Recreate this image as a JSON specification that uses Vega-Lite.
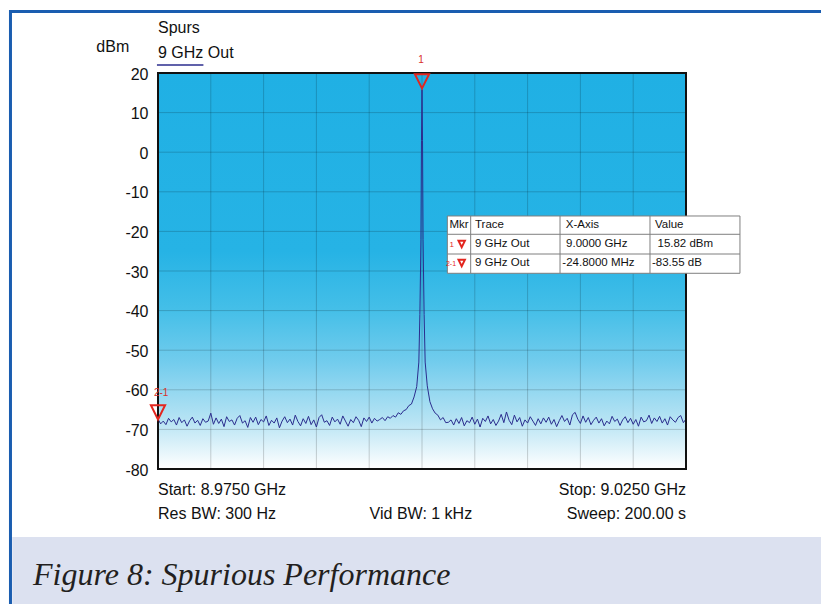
{
"$schema": "https://vega.github.io/schema/vega-lite/v6.json",
"width": 528, "height": 396,
"autosize": {"type": "none"},
"padding": {"left": 158, "top": 73, "right": 135, "bottom": 135},
"background": "#ffffff",
"config": {"view": {"stroke": null}, "font": "Liberation Sans", "text": {"font": "Liberation Sans"},
  "axisY": {"labelFont": "Liberation Sans", "labelFontSize": 16, "labelColor": "#111111", "labelPadding": 10, "labelFlush": false, "labelOverlap": false, "ticks": false, "domain": false, "grid": false, "title": null}},
"resolve": {"axis": {"x": "independent", "y": "independent"}},
"data": {"values": [{}]},
"datasets": {
"trace": [
{"f":8975,"v":-67.4},{"f":8975.25,"v":-68.6},{"f":8975.5,"v":-67.9},{"f":8975.75,"v":-68.8},{"f":8976,"v":-67.2},{"f":8976.25,"v":-68.1},{"f":8976.5,"v":-67.5},{"f":8976.75,"v":-68.9},{"f":8977,"v":-67.0},{"f":8977.25,"v":-68.3},
{"f":8977.5,"v":-67.6},{"f":8977.75,"v":-69.2},{"f":8978,"v":-67.8},{"f":8978.25,"v":-66.9},{"f":8978.5,"v":-68.4},{"f":8978.75,"v":-67.7},{"f":8979,"v":-69.0},{"f":8979.25,"v":-67.3},{"f":8979.5,"v":-68.2},{"f":8979.75,"v":-67.9},
{"f":8980,"v":-65.9},{"f":8980.25,"v":-68.7},{"f":8980.5,"v":-67.1},{"f":8980.75,"v":-68.5},{"f":8981,"v":-67.4},{"f":8981.25,"v":-69.3},{"f":8981.5,"v":-66.8},{"f":8981.75,"v":-68.0},{"f":8982,"v":-67.6},{"f":8982.25,"v":-68.9},
{"f":8982.5,"v":-67.2},{"f":8982.75,"v":-66.5},{"f":8983,"v":-68.4},{"f":8983.25,"v":-67.8},{"f":8983.5,"v":-69.5},{"f":8983.75,"v":-67.0},{"f":8984,"v":-68.2},{"f":8984.25,"v":-66.9},{"f":8984.5,"v":-68.8},{"f":8984.75,"v":-67.5},
{"f":8985,"v":-68.1},{"f":8985.25,"v":-66.6},{"f":8985.5,"v":-69.0},{"f":8985.75,"v":-67.7},{"f":8986,"v":-68.4},{"f":8986.25,"v":-67.1},{"f":8986.5,"v":-69.6},{"f":8986.75,"v":-67.9},{"f":8987,"v":-66.8},{"f":8987.25,"v":-68.3},
{"f":8987.5,"v":-67.4},{"f":8987.75,"v":-68.9},{"f":8988,"v":-66.4},{"f":8988.25,"v":-68.0},{"f":8988.5,"v":-69.1},{"f":8988.75,"v":-67.3},{"f":8989,"v":-68.5},{"f":8989.25,"v":-66.7},{"f":8989.5,"v":-68.8},{"f":8989.75,"v":-67.6},
{"f":8990,"v":-69.4},{"f":8990.25,"v":-67.0},{"f":8990.5,"v":-66.3},{"f":8990.75,"v":-68.2},{"f":8991,"v":-67.8},{"f":8991.25,"v":-69.0},{"f":8991.5,"v":-66.9},{"f":8991.75,"v":-68.1},{"f":8992,"v":-67.4},{"f":8992.25,"v":-68.7},
{"f":8992.5,"v":-66.6},{"f":8992.75,"v":-67.9},{"f":8993,"v":-69.2},{"f":8993.25,"v":-67.5},{"f":8993.5,"v":-68.3},{"f":8993.75,"v":-66.8},{"f":8994,"v":-67.7},{"f":8994.25,"v":-69.3},{"f":8994.5,"v":-67.1},{"f":8994.75,"v":-68.0},
{"f":8995,"v":-66.9},{"f":8995.25,"v":-68.4},{"f":8995.5,"v":-67.2},{"f":8995.75,"v":-67.9},
{"f":8996,"v":-67.5},{"f":8996.25,"v":-67.0},{"f":8996.5,"v":-67.8},{"f":8996.75,"v":-66.8},{"f":8997,"v":-67.2},{"f":8997.25,"v":-66.5},{"f":8997.5,"v":-66.9},{"f":8997.75,"v":-65.8},{"f":8998,"v":-66.2},{"f":8998.25,"v":-65.3},
{"f":8998.5,"v":-65.0},{"f":8998.75,"v":-64.0},{"f":8999,"v":-63.6},{"f":8999.25,"v":-61.8},{"f":8999.5,"v":-59.2},{"f":8999.7,"v":-53},{"f":8999.8,"v":-41},{"f":8999.9,"v":-22},{"f":8999.95,"v":3},{"f":9000,"v":15.8},
{"f":9000.05,"v":3},{"f":9000.1,"v":-22},{"f":9000.2,"v":-41},{"f":9000.3,"v":-53},{"f":9000.5,"v":-59},{"f":9000.75,"v":-63},{"f":9001,"v":-64.8},{"f":9001.25,"v":-65.9},{"f":9001.5,"v":-66.4},{"f":9001.75,"v":-67.6},
{"f":9002,"v":-67.0},{"f":9002.25,"v":-68.3},
{"f":9002.5,"v":-68.2},{"f":9002.75,"v":-67.6},{"f":9003,"v":-68.9},{"f":9003.25,"v":-67.3},{"f":9003.5,"v":-68.5},{"f":9003.75,"v":-67.0},{"f":9004,"v":-69.1},{"f":9004.25,"v":-67.8},{"f":9004.5,"v":-68.3},{"f":9004.75,"v":-66.9},
{"f":9005,"v":-68.7},{"f":9005.25,"v":-67.4},{"f":9005.5,"v":-69.4},{"f":9005.75,"v":-67.2},{"f":9006,"v":-68.0},{"f":9006.25,"v":-66.6},{"f":9006.5,"v":-68.6},{"f":9006.75,"v":-67.5},{"f":9007,"v":-69.0},{"f":9007.25,"v":-67.9},
{"f":9007.5,"v":-66.2},{"f":9007.75,"v":-68.3},{"f":9008,"v":-65.6},{"f":9008.25,"v":-67.7},{"f":9008.5,"v":-68.8},{"f":9008.75,"v":-66.4},{"f":9009,"v":-68.1},{"f":9009.25,"v":-67.0},{"f":9009.5,"v":-69.2},{"f":9009.75,"v":-67.6},
{"f":9010,"v":-68.4},{"f":9010.25,"v":-66.8},{"f":9010.5,"v":-67.9},{"f":9010.75,"v":-69.0},{"f":9011,"v":-67.3},{"f":9011.25,"v":-68.6},{"f":9011.5,"v":-67.1},{"f":9011.75,"v":-68.2},{"f":9012,"v":-66.9},{"f":9012.25,"v":-68.7},
{"f":9012.5,"v":-67.5},{"f":9012.75,"v":-69.3},{"f":9013,"v":-67.8},{"f":9013.25,"v":-66.5},{"f":9013.5,"v":-68.0},{"f":9013.75,"v":-67.2},{"f":9014,"v":-68.9},{"f":9014.25,"v":-66.3},{"f":9014.5,"v":-65.7},{"f":9014.75,"v":-67.4},
{"f":9015,"v":-68.5},{"f":9015.25,"v":-66.6},{"f":9015.5,"v":-68.2},{"f":9015.75,"v":-67.0},{"f":9016,"v":-68.8},{"f":9016.25,"v":-67.7},{"f":9016.5,"v":-66.9},{"f":9016.75,"v":-68.4},{"f":9017,"v":-67.3},{"f":9017.25,"v":-69.1},
{"f":9017.5,"v":-67.9},{"f":9017.75,"v":-68.6},{"f":9018,"v":-66.7},{"f":9018.25,"v":-68.0},{"f":9018.5,"v":-67.4},{"f":9018.75,"v":-69.0},{"f":9019,"v":-67.6},{"f":9019.25,"v":-66.8},{"f":9019.5,"v":-68.3},{"f":9019.75,"v":-67.2},
{"f":9020,"v":-68.7},{"f":9020.25,"v":-67.5},{"f":9020.5,"v":-69.2},{"f":9020.75,"v":-66.9},{"f":9021,"v":-68.1},{"f":9021.25,"v":-67.8},{"f":9021.5,"v":-66.4},{"f":9021.75,"v":-68.5},{"f":9022,"v":-67.1},{"f":9022.25,"v":-68.0},
{"f":9022.5,"v":-66.7},{"f":9022.75,"v":-68.4},{"f":9023,"v":-67.3},{"f":9023.25,"v":-68.9},{"f":9023.5,"v":-66.8},{"f":9023.75,"v":-67.6},{"f":9024,"v":-68.2},{"f":9024.25,"v":-67.0},{"f":9024.5,"v":-66.5},{"f":9024.75,"v":-68.3},
{"f":9025,"v":-67.4}
],
"gx": [{"g":8980},{"g":8985},{"g":8990},{"g":8995},{"g":9000},{"g":9005},{"g":9010},{"g":9015},{"g":9020}],
"gy": [{"g":-70},{"g":-60},{"g":-50},{"g":-40},{"g":-30},{"g":-20},{"g":-10},{"g":0},{"g":10}]
},
"layer": [
{"mark": {"type": "rect", "fill": "#dce1f0"},
 "encoding": {"x": {"datum": 8961.2, "axis": null}, "x2": {"datum": 9045}, "y": {"datum": -97.2, "axis": null}, "y2": {"datum": -125}}},
{"mark": {"type": "rule", "stroke": "#1a5db0", "strokeWidth": 3},
 "encoding": {"x": {"datum": 8960.9, "axis": null}, "x2": {"datum": 9045}, "y": {"datum": 35.53, "axis": null}}},
{"mark": {"type": "rule", "stroke": "#1a5db0", "strokeWidth": 3},
 "encoding": {"x": {"datum": 8961.03, "axis": null}, "y": {"datum": 35.9, "axis": null}, "y2": {"datum": -125}}},
{"mark": {"type": "rect", "fill": {"gradient": "linear", "x1": 0, "y1": 0, "x2": 0, "y2": 1,
   "stops": [{"offset": 0, "color": "#20b0e4"}, {"offset": 0.45, "color": "#26b3e5"}, {"offset": 0.6, "color": "#45bfe8"}, {"offset": 0.73, "color": "#72cced"}, {"offset": 0.88, "color": "#b8e4f4"}, {"offset": 1, "color": "#ffffff"}]}},
 "encoding": {"x": {"datum": 8975, "axis": null}, "x2": {"datum": 9025}, "y": {"datum": -80, "axis": null}, "y2": {"datum": 20}}},
{"data": {"name": "gx"}, "mark": {"type": "rule", "stroke": "#000000", "strokeOpacity": 0.18, "strokeWidth": 1},
 "encoding": {"x": {"field": "g", "type": "quantitative", "axis": null}}},
{"data": {"name": "gy"}, "mark": {"type": "rule", "stroke": "#000000", "strokeOpacity": 0.18, "strokeWidth": 1},
 "encoding": {"y": {"field": "g", "type": "quantitative", "axis": null}}},
{"data": {"name": "trace"}, "mark": {"type": "line", "stroke": "#2b2d8e", "strokeWidth": 1},
 "encoding": {
  "x": {"field": "f", "type": "quantitative", "scale": {"domain": [8975, 9025], "nice": false, "zero": false}, "axis": null},
  "y": {"field": "v", "type": "quantitative", "scale": {"domain": [-80, 20], "nice": false, "zero": false},
        "axis": {"values": [-80, -70, -60, -50, -40, -30, -20, -10, 0, 10, 20], "labelOffset": 1, "labelOverlap": false, "labelExpr": "toString(datum.value)"}}}},
{"mark": {"type": "rect", "filled": false, "stroke": "#111111", "strokeWidth": 2},
 "encoding": {"x": {"datum": 8975, "axis": null}, "x2": {"datum": 9025}, "y": {"datum": -80, "axis": null}, "y2": {"datum": 20}}},
{"mark": {"type": "point", "shape": "M-1,-1L1,-1L0,1Z", "size": 200, "filled": false, "stroke": "#e3261f", "strokeWidth": 2, "opacity": 1},
 "encoding": {"x": {"datum": 9000, "axis": null}, "y": {"datum": 17.9, "axis": null}}},
{"mark": {"type": "text", "text": "1", "fontSize": 10, "color": "#d9302c", "align": "center", "baseline": "middle"},
 "encoding": {"x": {"datum": 8999.9, "axis": null}, "y": {"datum": 23.3, "axis": null}}},
{"mark": {"type": "point", "shape": "M-1,-1L1,-1L0,1Z", "size": 200, "filled": false, "stroke": "#e3261f", "strokeWidth": 2, "opacity": 1},
 "encoding": {"x": {"datum": 8975, "axis": null}, "y": {"datum": -65.7, "axis": null}}},
{"mark": {"type": "text", "text": "2-1", "fontSize": 10, "color": "#d9302c", "align": "center", "baseline": "middle"},
 "encoding": {"x": {"datum": 8975.3, "axis": null}, "y": {"datum": -60.7, "axis": null}}},
{"mark": {"type": "rect", "fill": "#ffffff", "stroke": "#7f7f7f", "strokeWidth": 1},
 "encoding": {"x": {"datum": 9002.4, "axis": null}, "x2": {"datum": 9030.11}, "y": {"datum": -16.11, "axis": null}, "y2": {"datum": -30.58}}},
{"mark": {"type": "rule", "stroke": "#7f7f7f", "strokeWidth": 1},
 "encoding": {"x": {"datum": 9002.4, "axis": null}, "x2": {"datum": 9030.11}, "y": {"datum": -20.73, "axis": null}}},
{"mark": {"type": "rule", "stroke": "#7f7f7f", "strokeWidth": 1},
 "encoding": {"x": {"datum": 9002.4, "axis": null}, "x2": {"datum": 9030.11}, "y": {"datum": -25.71, "axis": null}}},
{"mark": {"type": "rule", "stroke": "#7f7f7f", "strokeWidth": 1},
 "encoding": {"x": {"datum": 9004.61, "axis": null}, "y": {"datum": -16.11, "axis": null}, "y2": {"datum": -30.58}}},
{"mark": {"type": "rule", "stroke": "#7f7f7f", "strokeWidth": 1},
 "encoding": {"x": {"datum": 9013.07, "axis": null}, "y": {"datum": -16.11, "axis": null}, "y2": {"datum": -30.58}}},
{"mark": {"type": "rule", "stroke": "#7f7f7f", "strokeWidth": 1},
 "encoding": {"x": {"datum": 9021.59, "axis": null}, "y": {"datum": -16.11, "axis": null}, "y2": {"datum": -30.58}}},
{"mark": {"type": "text", "text": "Mkr", "fontSize": 11.5, "color": "#111111", "align": "left", "baseline": "middle"},
 "encoding": {"x": {"datum": 9002.6, "axis": null}, "y": {"datum": -18.38, "axis": null}}},
{"mark": {"type": "text", "text": "Trace", "fontSize": 11.5, "color": "#111111", "align": "left", "baseline": "middle"},
 "encoding": {"x": {"datum": 9005.02, "axis": null}, "y": {"datum": -18.38, "axis": null}}},
{"mark": {"type": "text", "text": "X-Axis", "fontSize": 11.5, "color": "#111111", "align": "left", "baseline": "middle"},
 "encoding": {"x": {"datum": 9013.61, "axis": null}, "y": {"datum": -18.38, "axis": null}}},
{"mark": {"type": "text", "text": "Value", "fontSize": 11.5, "color": "#111111", "align": "left", "baseline": "middle"},
 "encoding": {"x": {"datum": 9022.06, "axis": null}, "y": {"datum": -18.38, "axis": null}}},
{"mark": {"type": "text", "text": "9 GHz Out", "fontSize": 11.5, "color": "#111111", "align": "left", "baseline": "middle"},
 "encoding": {"x": {"datum": 9005.02, "axis": null}, "y": {"datum": -23.18, "axis": null}}},
{"mark": {"type": "text", "text": "9.0000 GHz", "fontSize": 11.5, "color": "#111111", "align": "left", "baseline": "middle"},
 "encoding": {"x": {"datum": 9013.64, "axis": null}, "y": {"datum": -23.18, "axis": null}}},
{"mark": {"type": "text", "text": "15.82 dBm", "fontSize": 11.5, "color": "#111111", "align": "left", "baseline": "middle"},
 "encoding": {"x": {"datum": 9022.3, "axis": null}, "y": {"datum": -23.18, "axis": null}}},
{"mark": {"type": "text", "text": "9 GHz Out", "fontSize": 11.5, "color": "#111111", "align": "left", "baseline": "middle"},
 "encoding": {"x": {"datum": 9005.02, "axis": null}, "y": {"datum": -27.98, "axis": null}}},
{"mark": {"type": "text", "text": "-24.8000 MHz", "fontSize": 11.5, "color": "#111111", "align": "left", "baseline": "middle"},
 "encoding": {"x": {"datum": 9013.29, "axis": null}, "y": {"datum": -27.98, "axis": null}}},
{"mark": {"type": "text", "text": "-83.55 dB", "fontSize": 11.5, "color": "#111111", "align": "left", "baseline": "middle"},
 "encoding": {"x": {"datum": 9021.78, "axis": null}, "y": {"datum": -27.98, "axis": null}}},
{"mark": {"type": "text", "text": "1", "fontSize": 8, "color": "#e3261f", "align": "center", "baseline": "middle"},
 "encoding": {"x": {"datum": 9002.81, "axis": null}, "y": {"datum": -23.4, "axis": null}}},
{"mark": {"type": "text", "text": "2-1", "fontSize": 7, "color": "#e3261f", "align": "center", "baseline": "middle"},
 "encoding": {"x": {"datum": 9002.75, "axis": null}, "y": {"datum": -28.2, "axis": null}}},
{"mark": {"type": "point", "shape": "M-1,-1L1,-1L0,1Z", "size": 40, "filled": false, "stroke": "#e3261f", "strokeWidth": 2, "opacity": 1},
 "encoding": {"x": {"datum": 9003.76, "axis": null}, "y": {"datum": -23.18, "axis": null}}},
{"mark": {"type": "point", "shape": "M-1,-1L1,-1L0,1Z", "size": 40, "filled": false, "stroke": "#e3261f", "strokeWidth": 2, "opacity": 1},
 "encoding": {"x": {"datum": 9003.76, "axis": null}, "y": {"datum": -27.98, "axis": null}}},
{"mark": {"type": "text", "text": "Spurs", "fontSize": 16, "color": "#111111", "align": "left", "baseline": "alphabetic"},
 "encoding": {"x": {"datum": 8975, "axis": null}, "y": {"datum": 30.03, "axis": null}}},
{"mark": {"type": "text", "text": "9 GHz Out", "fontSize": 16, "color": "#111111", "align": "left", "baseline": "alphabetic"},
 "encoding": {"x": {"datum": 8975, "axis": null}, "y": {"datum": 23.7, "axis": null}}},
{"mark": {"type": "rule", "stroke": "#2b2d8e", "strokeWidth": 1.5},
 "encoding": {"x": {"datum": 8974.9, "axis": null}, "x2": {"datum": 8979.3}, "y": {"datum": 22.02, "axis": null}}},
{"mark": {"type": "text", "text": "dBm", "fontSize": 16, "color": "#111111", "align": "right", "baseline": "alphabetic"},
 "encoding": {"x": {"datum": 8972.28, "axis": null}, "y": {"datum": 25.4, "axis": null}}},
{"mark": {"type": "text", "text": "Start: 8.9750 GHz", "fontSize": 16, "color": "#111111", "align": "left", "baseline": "alphabetic"},
 "encoding": {"x": {"datum": 8975, "axis": null}, "y": {"datum": -86.57, "axis": null}}},
{"mark": {"type": "text", "text": "Stop: 9.0250 GHz", "fontSize": 16, "color": "#111111", "align": "right", "baseline": "alphabetic"},
 "encoding": {"x": {"datum": 9025, "axis": null}, "y": {"datum": -86.57, "axis": null}}},
{"mark": {"type": "text", "text": "Res BW: 300 Hz", "fontSize": 16, "color": "#111111", "align": "left", "baseline": "alphabetic"},
 "encoding": {"x": {"datum": 8975, "axis": null}, "y": {"datum": -92.71, "axis": null}}},
{"mark": {"type": "text", "text": "Vid BW: 1 kHz", "fontSize": 16, "color": "#111111", "align": "left", "baseline": "alphabetic"},
 "encoding": {"x": {"datum": 8995.04, "axis": null}, "y": {"datum": -92.71, "axis": null}}},
{"mark": {"type": "text", "text": "Sweep: 200.00 s", "fontSize": 16, "color": "#111111", "align": "right", "baseline": "alphabetic"},
 "encoding": {"x": {"datum": 9025, "axis": null}, "y": {"datum": -92.71, "axis": null}}},
{"mark": {"type": "text", "text": "Figure 8: Spurious Performance", "font": "Liberation Serif", "fontStyle": "italic", "fontSize": 32, "color": "#231f20", "align": "left", "baseline": "alphabetic"},
 "encoding": {"x": {"datum": 8963.16, "axis": null}, "y": {"datum": -109.3, "axis": null}}}
]
}
